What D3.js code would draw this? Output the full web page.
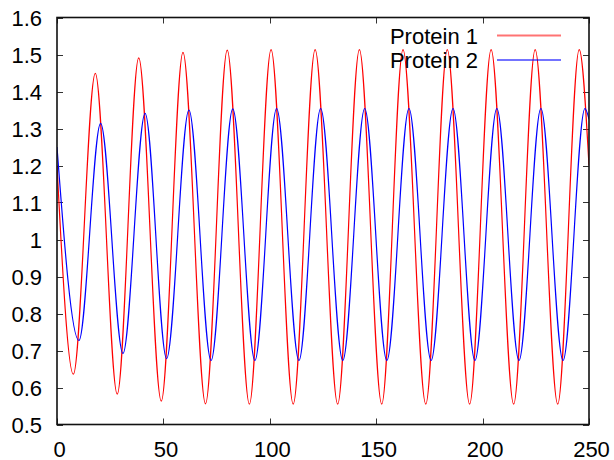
<!DOCTYPE html>
<html>
<head>
<meta charset="utf-8">
<script src="https://cdn.jsdelivr.net/npm/d3@7"></script>
<style>
  html, body { margin: 0; padding: 0; background: #fff; }
  svg { display: block; }
  text { font-family: "Liberation Sans", Arial, sans-serif; fill: #000; }
</style>
</head>
<body>
<svg id="chart" width="614" height="460"></svg>
<script>
// ---- data (extrema of each oscillation) ----
const p1T = [0, 7.7, 18.0, 28.3, 38.4, 49.0, 59.2, 69.8, 80.0, 90.4, 100.6, 111.0, 121.3, 131.9, 142.1, 152.6, 162.6, 173.3, 183.4, 193.9, 204.0, 214.6, 224.7, 235.3, 245.4, 250];
const p1V = [1.20, 0.636, 1.449, 0.582, 1.491, 0.563, 1.506, 0.556, 1.512, 0.555, 1.513, 0.555, 1.513, 0.555, 1.513, 0.555, 1.513, 0.555, 1.513, 0.555, 1.513, 0.555, 1.513, 0.555, 1.513, 1.20];
const p2T = [0, 10.3, 20.5, 31.0, 41.4, 51.5, 62.0, 72.4, 82.6, 93.0, 103.2, 113.7, 123.9, 134.3, 144.6, 155.0, 165.4, 175.8, 186.1, 196.4, 206.7, 217.1, 227.4, 237.8, 248.1, 250];
const p2V = [1.25, 0.727, 1.314, 0.692, 1.341, 0.678, 1.350, 0.673, 1.353, 0.673, 1.354, 0.673, 1.354, 0.673, 1.354, 0.673, 1.354, 0.673, 1.354, 0.673, 1.354, 0.673, 1.354, 0.673, 1.354, 1.325];
const seriesNames = ["Protein 1", "Protein 2"];
const seriesColors = ["#ff0000", "#0000ff"];
const xTicks = [0, 50, 100, 150, 200, 250];
const yTicks = [0.5, 0.6, 0.7, 0.8, 0.9, 1, 1.1, 1.2, 1.3, 1.4, 1.5, 1.6];

// ---- layout ----
const L = 57, R = 589, T = 17.5, B = 424.5;
const svg = d3.select("#chart");
const x = d3.scaleLinear().domain([0, 250]).range([L, R]);
const y = d3.scaleLinear().domain([0.5, 1.6]).range([B, T]);

svg.append("defs").append("clipPath").attr("id", "clip")
  .append("rect").attr("x", L).attr("y", T).attr("width", R - L).attr("height", B - T);

// ticks (inward, all four sides)
const tickLen = 6;
const tg = svg.append("g").attr("stroke", "#333").attr("stroke-width", 1);
xTicks.forEach(v => {
  const px = Math.round(x(v)) + 0.5;
  tg.append("line").attr("x1", px).attr("x2", px).attr("y1", B).attr("y2", B - tickLen);
  tg.append("line").attr("x1", px).attr("x2", px).attr("y1", T).attr("y2", T + tickLen);
});
yTicks.forEach(v => {
  const py = Math.round(y(v)) + 0.5;
  tg.append("line").attr("x1", L).attr("x2", L + tickLen).attr("y1", py).attr("y2", py);
  tg.append("line").attr("x1", R).attr("x2", R - tickLen).attr("y1", py).attr("y2", py);
});

// tick labels
const fs = 22;
svg.append("g").selectAll("text").data(yTicks).join("text")
  .attr("x", 42).attr("y", d => y(d) + 8)
  .attr("text-anchor", "end").attr("font-size", fs)
  .text(d => d3.format("")(+d.toFixed(1)));
svg.append("g").selectAll("text").data(xTicks).join("text")
  .attr("x", d => x(d) + 2.5).attr("y", 456.5)
  .attr("text-anchor", "middle").attr("font-size", fs)
  .text(d => d);

// series lines
const line = d3.line().x(d => x(d[0])).y(d => y(d[1])).curve(d3.curveMonotoneX);
const series = [d3.zip(p1T, p1V), d3.zip(p2T, p2V)];
const lg = svg.append("g").attr("clip-path", "url(#clip)");
series.forEach((s, i) => {
  lg.append("path").datum(s).attr("d", line)
    .attr("fill", "none").attr("stroke", seriesColors[i]).attr("stroke-width", 1.2);
});

// frame
svg.append("rect").attr("x", L).attr("y", T).attr("width", R - L).attr("height", B - T)
  .attr("fill", "none").attr("stroke", "#111").attr("stroke-width", 1.6);

// legend
seriesNames.forEach((n, i) => {
  const ly = 35.5 + i * 24.5;
  svg.append("text").attr("x", 478).attr("y", ly + 8).attr("text-anchor", "end")
    .attr("font-size", fs).text(n);
  svg.append("line").attr("x1", 497).attr("x2", 561).attr("y1", ly).attr("y2", ly)
    .attr("stroke", seriesColors[i]).attr("stroke-width", 2).attr("stroke-opacity", 0.55);
});
</script>
</body>
</html>
